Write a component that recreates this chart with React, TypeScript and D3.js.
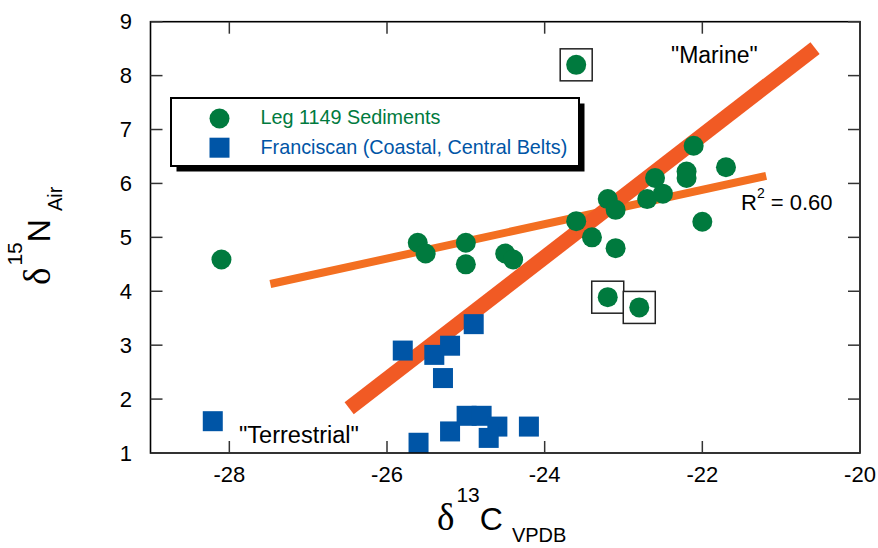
import React from "react";
import * as d3 from "d3";

// Leg 1149 sediments (green circles)
const sedX = [-28.1, -25.61, -25.51, -25.0, -25.0, -24.5, -24.4, -23.6, -23.4, -23.2, -23.1, -23.1, -22.7, -22.6, -22.5, -22.2, -22.2, -22.11, -22.0, -21.7, -23.6, -23.2, -22.8];
const sedY = [4.59, 4.9, 4.7, 4.9, 4.5, 4.7, 4.59, 5.3, 5.0, 5.71, 5.51, 4.8, 5.71, 6.1, 5.81, 6.22, 6.1, 6.7, 5.29, 6.3, 8.2, 3.89, 3.7];
// points marked with an open box
const boxedX = [-23.6, -23.2, -22.8];
const boxedY = [8.2, 3.89, 3.7];

// Franciscan (blue squares)
const franX = [-28.21, -25.8, -25.4, -25.2, -25.29, -24.9, -25.6, -25.2, -24.99, -24.8, -24.6, -24.71, -24.2];
const franY = [1.59, 2.9, 2.82, 2.99, 2.39, 3.39, 1.19, 1.4, 1.69, 1.69, 1.49, 1.28, 1.49];

// regression lines
const thinLineX = [-27.48, -21.19];
const thinLineY = [4.135, 6.14];
const thickLineX = [-26.48, -20.57];
const thickLineY = [1.83, 8.51];

const xTicks = [-28, -26, -24, -22, -20];
const yTicks = [1, 2, 3, 4, 5, 6, 7, 8, 9];

const GREEN = "#007a3e";
const BLUE = "#0055a6";
const ORANGE_THICK = "#f15a24";
const ORANGE_THIN = "#f36f21";
const FONT = "'Liberation Sans', Arial, Helvetica, sans-serif";
const SERIF = "'Liberation Serif', 'Times New Roman', serif";

export default function App() {
  const W = 878, H = 548;
  const x = d3.scaleLinear().domain([-29, -20]).range([150.5, 860]);
  const y = d3.scaleLinear().domain([1, 9]).range([453, 21.7]);
  const line = d3.line<[number, number]>().x((d) => x(d[0])).y((d) => y(d[1]));
  const thin = line(thinLineX.map((v, i) => [v, thinLineY[i]]));
  const thick = line(thickLineX.map((v, i) => [v, thickLineY[i]]));
  const [x0, x1] = x.range();
  const [y0, y1] = y.range();
  const tl = 12;
  const r = 10;
  const sq = 20;
  const box = 32;

  return (
    <svg width={W} height={H} style={{ position: "absolute", left: 0, top: 0, background: "#fff" }} fontFamily={FONT}>
      <rect x={0} y={0} width={W} height={H} fill="#fff" />
      {/* lines */}
      <path d={thin!} stroke={ORANGE_THIN} strokeWidth={8} fill="none" />
      <path d={thick!} stroke={ORANGE_THICK} strokeWidth={15} fill="none" />
      {/* boxes */}
      {boxedX.map((v, i) => (
        <rect key={"b" + i} x={x(v) - box / 2} y={y(boxedY[i]) - box / 2} width={box} height={box} fill="#fff" stroke="#222" strokeWidth={1.5} />
      ))}
      {/* points */}
      {franX.map((v, i) => (
        <rect key={"f" + i} x={x(v) - sq / 2} y={y(franY[i]) - sq / 2} width={sq} height={sq} fill={BLUE} />
      ))}
      {sedX.map((v, i) => (
        <circle key={"s" + i} cx={x(v)} cy={y(sedY[i])} r={r} fill={GREEN} />
      ))}
      {/* frame */}
      <rect x={x0} y={y1} width={x1 - x0} height={y0 - y1} fill="none" stroke="#000" strokeWidth={1.6} />
      {/* ticks */}
      {xTicks.map((t) => (
        <g key={"xt" + t}>
          <line x1={x(t)} x2={x(t)} y1={y0} y2={y0 - tl} stroke="#333" strokeWidth={1.5} />
          <line x1={x(t)} x2={x(t)} y1={y1} y2={y1 + tl} stroke="#333" strokeWidth={1.5} />
          <text x={x(t)} y={482} textAnchor="middle" fontSize={22} fill="#000">{t}</text>
        </g>
      ))}
      {yTicks.map((t) => (
        <g key={"yt" + t}>
          <line x1={x0} x2={x0 + tl} y1={y(t)} y2={y(t)} stroke="#333" strokeWidth={1.5} />
          <line x1={x1} x2={x1 - tl} y1={y(t)} y2={y(t)} stroke="#333" strokeWidth={1.5} />
          <text x={132} y={y(t) + 7.5} textAnchor="end" fontSize={22} fill="#000">{t}</text>
        </g>
      ))}
      {/* legend */}
      <rect x={176.5} y={103.5} width={408} height={68} fill="#000" />
      <rect x={171} y={98} width={408} height={68} fill="#fff" stroke="#000" strokeWidth={2} />
      <circle cx={219.5} cy={118.5} r={r} fill={GREEN} />
      <rect x={219.5 - sq / 2} y={147.7 - sq / 2} width={sq} height={sq} fill={BLUE} />
      <text x={260.5} y={124} fontSize={19.8} fill={GREEN}>Leg 1149 Sediments</text>
      <text x={260.5} y={154} fontSize={19.8} fill={BLUE}>Franciscan (Coastal, Central Belts)</text>
      {/* annotations */}
      <text x={671} y={63} fontSize={23} fill="#000">"Marine"</text>
      <text x={239} y={443} fontSize={23.5} fill="#000">"Terrestrial"</text>
      <text x={741} y={210} fontSize={22} fill="#000">
        R<tspan fontSize={14} dy={-12}>2</tspan><tspan dy={12}> = 0.60</tspan>
      </text>
      {/* x axis label */}
      <text x={437} y={530} fill="#000">
        <tspan fontFamily={SERIF} fontSize={37}>δ</tspan>
        <tspan fontSize={21} dx={2} dy={-28}>13</tspan>
        <tspan fontSize={32} dy={28}>C</tspan>
        <tspan fontSize={20} dx={9} dy={12}>VPDB</tspan>
      </text>
      {/* y axis label */}
      <text transform="rotate(-90)" x={-285} y={50} fill="#000">
        <tspan fontFamily={SERIF} fontSize={37}>δ</tspan>
        <tspan fontSize={21} dx={2} dy={-28}>15</tspan>
        <tspan fontSize={32} dy={28}>N</tspan>
        <tspan fontSize={20} dx={8} dy={12}>Air</tspan>
      </text>
    </svg>
  );
}
